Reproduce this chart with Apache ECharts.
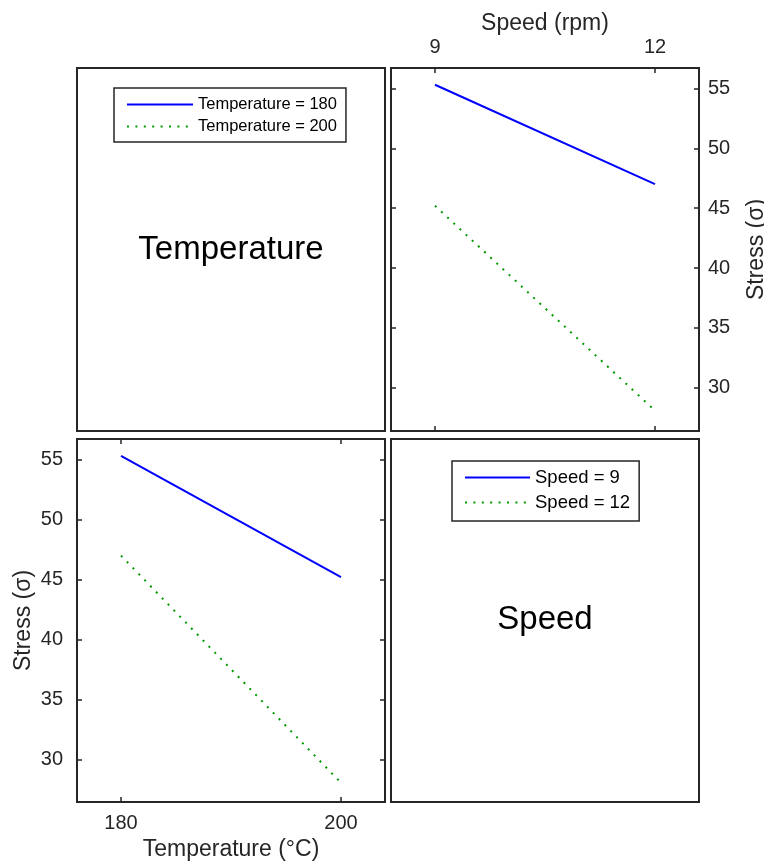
<!DOCTYPE html>
<html>
<head>
<meta charset="utf-8">
<script src="https://cdn.jsdelivr.net/npm/echarts@6/dist/echarts.min.js"></script>
<style>
  html, body { margin: 0; padding: 0; background: #fff; }
  #main { width: 764px; height: 864px; }
</style>
</head>
<body>
<div id="main"></div>
<script>
// interaction plot: stress by temperature and speed
var speeds = [9, 12];
var temps = [180, 200];
var stressTemp180 = [55.3, 47.0];   // vs speed
var stressTemp200 = [45.2, 28.1];   // vs speed
var stressSpeed9 = [55.3, 45.2];    // vs temperature
var stressSpeed12 = [47.0, 28.1];   // vs temperature
var stressTicks = [30, 35, 40, 45, 50, 55];

var axisColor = '#262626';
var fontFam = '"Liberation Sans", Arial, Helvetica, sans-serif';
var blue = '#0000ff';
var green = '#009a00';

var pairs = function (xs, ys) {
    return xs.map(function (x, i) { return [x, ys[i]]; });
};

var tickAxis = function (grid, pos, min, max, ticks, withLabel, margin) {
    return {
        type: 'value',
        gridIndex: grid,
        position: pos,
        min: min,
        max: max,
        axisLine: { show: false, onZero: false },
        splitLine: { show: false },
        axisTick: { show: true, inside: true, length: 5, customValues: ticks,
            lineStyle: { color: axisColor, width: 1.5 } },
        axisLabel: { show: withLabel, customValues: ticks, margin: margin,
            color: axisColor, fontSize: 20, fontFamily: fontFam }
    };
};

var nameStyle = { color: axisColor, fontSize: 23, fontFamily: fontFam };

var xTop = tickAxis(0, 'top', 8.4, 12.6, speeds, true, 11);
xTop.name = 'Speed (rpm)';
xTop.nameLocation = 'middle';
xTop.nameGap = 33;
xTop.nameTextStyle = nameStyle;

var yRight = tickAxis(0, 'right', 26.4, 56.7, stressTicks, true, 9);
yRight.name = 'Stress (σ)';
yRight.nameLocation = 'middle';
yRight.nameGap = 46;
yRight.nameRotate = 90;
yRight.nameTextStyle = nameStyle;

var xBottom = tickAxis(1, 'bottom', 176, 204, temps, true, 11);
xBottom.name = 'Temperature (°C)';
xBottom.nameLocation = 'middle';
xBottom.nameGap = 36;
xBottom.nameTextStyle = nameStyle;

var yLeft = tickAxis(1, 'left', 26.5, 56.7, stressTicks, true, 14);
yLeft.name = 'Stress (σ)';
yLeft.nameLocation = 'middle';
yLeft.nameGap = 42;
yLeft.nameRotate = 90;
yLeft.nameTextStyle = nameStyle;

var box = function (x, y) {
    return { type: 'rect', shape: { x: x, y: y, width: 308, height: 363 },
        style: { fill: 'none', stroke: axisColor, lineWidth: 2 }, z: 10 };
};
var bigText = function (txt, x, y) {
    return { type: 'text', x: x, y: y, z: 10,
        style: { text: txt, fill: '#000', fontSize: 33, fontFamily: fontFam,
            textAlign: 'center', textVerticalAlign: 'middle' } };
};

var lineSeries = function (name, xi, yi, data, color, dotted) {
    return {
        name: name,
        type: 'line',
        xAxisIndex: xi,
        yAxisIndex: yi,
        data: data,
        symbol: 'none',
        animation: false,
        lineStyle: dotted ? { color: color, width: 2, type: [2, 6.4] } : { color: color, width: 2 },
        itemStyle: { color: color }
    };
};

var legendBase = function (names, left, top, pad, itemWidth, gap, fs) {
    return {
        data: names,
        orient: 'vertical',
        left: left,
        top: top,
        padding: pad,
        itemWidth: itemWidth,
        itemHeight: 14,
        itemGap: gap,
        backgroundColor: '#fff',
        borderColor: axisColor,
        borderWidth: 1.5,
        borderRadius: 0,
        selectedMode: false,
        itemStyle: { opacity: 0 },   // hide the circle, keep the line sample
        textStyle: { color: '#000', fontSize: fs, fontFamily: fontFam }
    };
};

var chart = echarts.init(document.getElementById('main'));
var option = {
    animation: false,
    backgroundColor: '#fff',
    grid: [
        { left: 391, top: 68, width: 308, height: 363, show: true, borderColor: axisColor,
          borderWidth: 2, backgroundColor: 'transparent', containLabel: false, outerBoundsMode: 'none' },
        { left: 77, top: 439, width: 308, height: 363, show: true, borderColor: axisColor,
          borderWidth: 2, backgroundColor: 'transparent', containLabel: false, outerBoundsMode: 'none' }
    ],
    xAxis: [
        xTop,
        tickAxis(0, 'bottom', 8.4, 12.6, speeds, false, 0),
        xBottom,
        tickAxis(1, 'top', 176, 204, temps, false, 0)
    ],
    yAxis: [
        yRight,
        tickAxis(0, 'left', 26.4, 56.7, stressTicks, false, 0),
        yLeft,
        tickAxis(1, 'right', 26.5, 56.7, stressTicks, false, 0)
    ],
    legend: [
        legendBase(['Temperature = 180', 'Temperature = 200'], 114, 88, [8, 9, 7, 12], 66, 5, 16.5),
        legendBase(['Speed = 9', 'Speed = 12'], 452, 461, [7, 9, 9, 12], 65, 6, 18.5)
    ],
    graphic: [
        box(77, 68),
        box(391, 439),
        bigText('Temperature', 231, 250),
        bigText('Speed', 545, 620)
    ],
    series: [
        lineSeries('Temperature = 180', 0, 0, pairs(speeds, stressTemp180), blue, false),
        lineSeries('Temperature = 200', 0, 0, pairs(speeds, stressTemp200), green, true),
        lineSeries('Speed = 9', 2, 2, pairs(temps, stressSpeed9), blue, false),
        lineSeries('Speed = 12', 2, 2, pairs(temps, stressSpeed12), green, true)
    ]
};
chart.setOption(option);
</script>
</body>
</html>
